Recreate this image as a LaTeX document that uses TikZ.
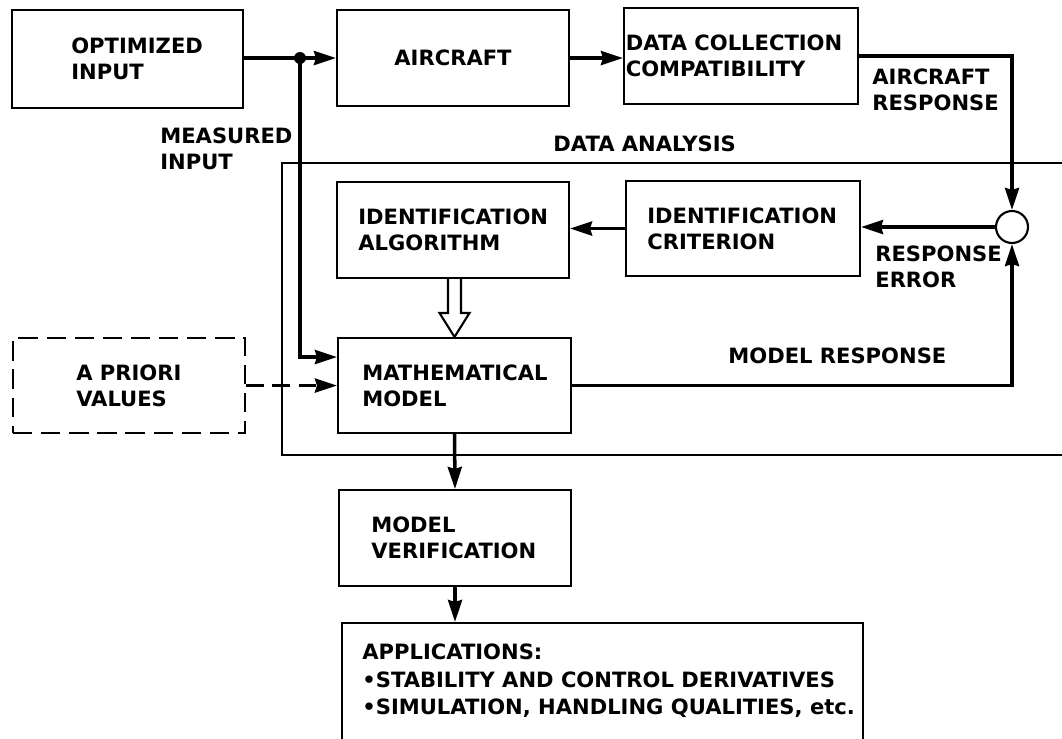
\documentclass[tikz,border=0pt]{standalone}
\usepackage{fontspec}
\setmainfont{DejaVu Sans}
\usetikzlibrary{calc,arrows.meta}

\begin{document}
\begin{tikzpicture}[x=0.02cm, y=-0.02cm,
    font=\fontsize{12}{14.8}\selectfont\bfseries,
    blk/.style={draw, line width=1.2pt, inner sep=0pt},
    txt/.style={inner sep=0pt, align=left},
    flow/.style={line width=2pt, -{Stealth[length=4.4mm, width=2.8mm, inset=0.4mm]}},
    frame/.style={line width=0.9pt}]
    \useasboundingbox (0,0) rectangle (1062,738);

    % data analysis frame, open to the right
    \draw[frame] (1070,163) -- (282,163) -- (282,455) -- (1070,455);

    \node[blk, minimum width=4.62cm, minimum height=1.96cm,
        label={[txt, anchor=west, xshift=1.2cm]west:{OPTIMIZED\\INPUT}}] (opt) at (127.5,59) {};
    \node[blk, minimum width=4.64cm, minimum height=1.92cm] (air) at (453,58) {AIRCRAFT};
    \node[blk, minimum width=4.68cm, minimum height=1.92cm,
        label={[txt, anchor=west, xshift=0.05cm]west:{DATA COLLECTION\\COMPATIBILITY}}] (dcc) at (741,56) {};
    \node[blk, minimum width=4.68cm, minimum height=1.9cm,
        label={[txt, anchor=west, xshift=0.44cm]west:{IDENTIFICATION\\CRITERION}}] (crit) at (743,228.5) {};
    \node[blk, minimum width=4.64cm, minimum height=1.92cm,
        label={[txt, anchor=west, xshift=0.44cm]west:{IDENTIFICATION\\ALGORITHM}}] (alg) at (453,230) {};
    \node[blk, minimum width=4.66cm, minimum height=1.9cm,
        label={[txt, anchor=west, xshift=0.5cm]west:{MATHEMATICAL\\MODEL}}] (math) at (454.5,385.5) {};
    \node[blk, dash pattern=on 11pt off 5pt, minimum width=4.64cm, minimum height=1.9cm,
        label={[txt, anchor=west, xshift=1.28cm]west:{A PRIORI\\VALUES}}] (apr) at (129,385.5) {};
    \node[blk, minimum width=4.64cm, minimum height=1.92cm,
        label={[txt, anchor=west, xshift=0.66cm]west:{MODEL\\VERIFICATION}}] (ver) at (455,538) {};
    \node[blk, minimum width=10.42cm, minimum height=2.94cm,
        label={[txt, anchor=north west, xshift=0.42cm, yshift=-0.44cm,
            font=\fontsize{12}{15.5}\selectfont\bfseries]north west:{APPLICATIONS:\\•STABILITY AND CONTROL DERIVATIVES\\•SIMULATION, HANDLING QUALITIES, etc.}}] (app) at (602.5,696.5) {};
    \node[draw, circle, line width=1.2pt, fill=white, minimum size=0.64cm, inner sep=0pt] (sum) at (1012,227) {};

    % signal labels
    \node[txt, anchor=north west] (meas) at (160,127) {MEASURED\\INPUT};
    \node[txt, anchor=north west] (acresp) at (872,68) {AIRCRAFT\\RESPONSE};
    \node[txt, anchor=north west] (dana) at (553,135) {DATA ANALYSIS};
    \node[txt, anchor=north west] (resperr) at (875,245) {RESPONSE\\ERROR};
    \node[txt, anchor=north west] (modresp) at (728,347) {MODEL RESPONSE};

    % connectors
    \coordinate (jn) at (300,58);
    \draw[flow] (opt.east |- jn) -- (jn -| air.west);
    \fill (jn) circle (0.12cm);
    \draw[flow] (jn) |- ([yshift=0.57cm]math.west);
    \draw[flow] (air.east) -- (air.east -| dcc.west);
    \draw[flow] (dcc.east) -| (sum.north);
    \draw[flow] (sum.west) -- (sum.west -| crit.east);
    \draw[flow] (crit.west) -- (crit.west -| alg.east);
    \draw[flow, dash pattern=on 10pt off 5pt] (apr.east) -- (math.west);
    \draw[flow] (math.east) -| (sum.south);
    \draw[flow] (math.south) -- (ver.north);
    \draw[flow] (ver.south) -- (ver.south |- app.north);

    % open arrow from algorithm to model
    \draw[line width=1.2pt, fill=white] ($(alg.south -| math.north)+(-6.5,0)$) -- ($(math.north)+(-6.5,-24)$)
        -- ($(math.north)+(-15,-24)$) -- (math.north) -- ($(math.north)+(15,-24)$)
        -- ($(math.north)+(6.5,-24)$) -- ($(alg.south -| math.north)+(6.5,0)$);
\end{tikzpicture}
\end{document}
